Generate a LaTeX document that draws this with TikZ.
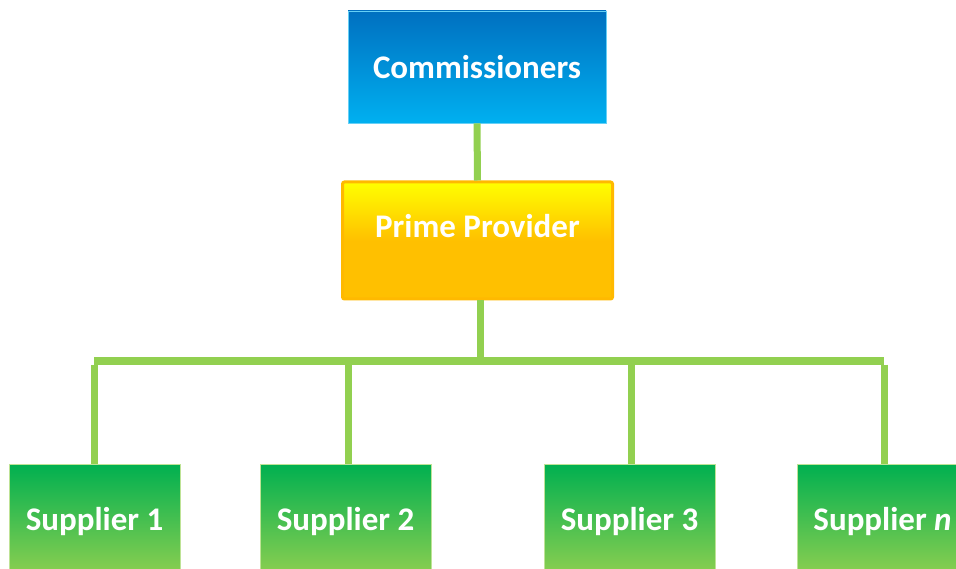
\documentclass[tikz,border=0pt]{standalone}
\usepackage{fontspec}
\setmainfont{Carlito}
\definecolor{conn}{HTML}{92D050}
\definecolor{bluetop}{HTML}{0070C0}
\definecolor{bluebot}{HTML}{00B0F0}
\definecolor{ylw}{HTML}{FFFF00}
\definecolor{org}{HTML}{FFC000}
\definecolor{orgline}{HTML}{FFB900}
\definecolor{grtop}{HTML}{00B050}
\definecolor{grbot}{HTML}{92D050}
\tikzset{
  boxtext/.style={text=white,font=\fontsize{33}{37}\selectfont\bfseries},
  bluebox/.style={boxtext,rectangle,inner sep=0pt,minimum width=258pt,minimum height=112pt,
    top color=bluetop,bottom color=bluebot,draw=bluebot!60!white,line width=0.6pt},
  primebox/.style={rectangle,inner sep=0pt,minimum width=270pt,minimum height=117pt,
    top color=ylw,bottom color=org,middle color=org,draw=orgline,line width=3pt,rounded corners=2pt},
  supbox/.style={boxtext,rectangle,inner sep=0pt,minimum width=171pt,minimum height=116pt,
    top color=grtop,bottom color=grbot,draw=grbot!60!white,line width=0.6pt},
  connector/.style={draw=conn,line width=7pt},
}
\begin{document}
\begin{tikzpicture}[x=1pt,y=-1pt]
\useasboundingbox (0,0) rectangle (956,569);
\clip (0,0) rectangle (956,569);
\fill[white] (0,0) rectangle (956,569);
\coordinate (barL) at (94,361);
\coordinate (barR) at (884,361);
\node[bluebox] (comm) at (477,67) {Commissioners};
\node[primebox,label={[boxtext,yshift=14pt]center:Prime Provider}] (prime) at (477.5,240.5) {};
\node[supbox] (s1) at (94.5,522) {Supplier 1};
\node[supbox] (s2) at (345.5,522) {Supplier 2};
\node[supbox] (s3) at (629.5,522) {Supplier 3};
\node[supbox] (sn) at (882.5,522) {Supplier \textit{n}};
\path[connector] (comm.south) -- (prime.north);
\path[connector] ([xshift=3pt]prime.south) -- ([xshift=3pt]prime.south |- barL);
\path[connector] (barL) -- (barR);
\path[connector] ([yshift=-3.5pt]barL) -- (s1.north -| barL);
\path[connector] ([xshift=2.5pt]s2.north) -- ([xshift=2.5pt,yshift=-3.5pt]s2.north |- barL);
\path[connector] ([xshift=1.5pt]s3.north) -- ([xshift=1.5pt,yshift=-3.5pt]s3.north |- barL);
\path[connector] ([yshift=-3.5pt]barR) -- (sn.north -| barR);
\end{tikzpicture}
\end{document}
